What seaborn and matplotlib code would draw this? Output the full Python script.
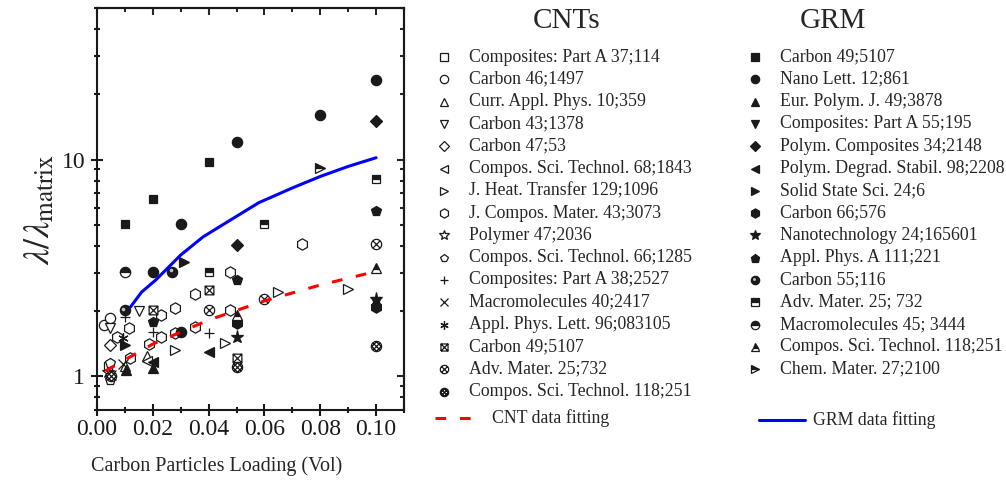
import numpy as np
import matplotlib
matplotlib.use('Agg')
import matplotlib.pyplot as plt
import matplotlib.ticker as mticker
import matplotlib.transforms as mtrans
from matplotlib.path import Path
import seaborn as sns

# ---- data ----
cnt_labels = ['Composites: Part A 37;114', 'Carbon 46;1497', 'Curr. Appl. Phys. 10;359',
              'Carbon 43;1378', 'Carbon 47;53', 'Compos. Sci. Technol. 68;1843',
              'J. Heat. Transfer 129;1096', 'J. Compos. Mater. 43;3073', 'Polymer 47;2036',
              'Compos. Sci. Technol. 66;1285', 'Composites: Part A 38;2527',
              'Macromolecules 40;2417', 'Appl. Phys. Lett. 96;083105', 'Carbon 49;5107',
              'Adv. Mater. 25;732', 'Compos. Sci. Technol. 118;251']
cnt_x = [[0.004, 0.05], [0.0025, 0.0046], [0.01, 0.018], [0.0046, 0.015], [0.0046],
         [0.018], [0.028, 0.046, 0.065, 0.09],
         [0.0071, 0.0115, 0.0118, 0.0186, 0.023, 0.023, 0.028, 0.028, 0.035, 0.035, 0.0475, 0.0475, 0.0736],
         [0.004], [0.0046, 0.0046], [0.01, 0.02, 0.04], [0.005, 0.0095], [0.0093],
         [0.02, 0.04, 0.05], [0.04, 0.06, 0.10], [0.005, 0.05, 0.10]]
cnt_y = [[1.12, 1.17], [1.72, 1.86], [1.12, 1.24], [1.67, 2.0], [1.4],
         [1.18], [1.33, 1.42, 2.45, 2.53],
         [1.52, 1.67, 1.22, 1.41, 1.92, 1.52, 2.06, 1.58, 2.4, 1.69, 3.03, 2.02, 4.09],
         [1.05], [1.15, 0.96], [1.88, 1.6, 1.58], [1.02, 1.14], [1.5],
         [2.02, 2.5, 1.21], [2.02, 2.27, 4.09], [1.0, 1.11, 1.38]]

grm_labels = ['Carbon 49;5107', 'Nano Lett. 12;861', 'Eur. Polym. J. 49;3878',
              'Composites: Part A 55;195', 'Polym. Composites 34;2148',
              'Polym. Degrad. Stabil. 98;2208', 'Solid State Sci. 24;6', 'Carbon 66;576',
              'Nanotechnology 24;165601', 'Appl. Phys. A 111;221', 'Carbon 55;116',
              'Adv. Mater. 25; 732', 'Macromolecules 45; 3444',
              'Compos. Sci. Technol. 118;251', 'Chem. Mater. 27;2100']
grm_x = [[0.01, 0.02, 0.04], [0.02, 0.03, 0.03, 0.05, 0.08, 0.10], [0.0104, 0.02], [0.10],
         [0.05, 0.10], [0.02, 0.04], [0.01, 0.031], [0.05, 0.10], [0.05, 0.10],
         [0.02, 0.05, 0.10], [0.01, 0.027], [0.04, 0.06, 0.10], [0.01], [0.05, 0.10], [0.08]]
grm_y = [[5.05, 6.6, 9.7], [3.03, 5.05, 1.6, 12.1, 16.1, 23.2], [1.07, 1.09], [2.2],
         [4.04, 15.1], [1.16, 1.29], [1.39, 3.37], [1.76, 2.1], [1.52, 2.28],
         [1.78, 2.78, 5.8], [2.02, 3.03], [3.03, 5.05, 8.1], [3.03], [1.92, 3.16], [9.1]]

cnt_fit_x = [0.003, 0.02, 0.04, 0.06, 0.08, 0.10]
cnt_fit_y = [1.06, 1.41, 1.82, 2.23, 2.64, 3.05]
grm_fit_x = [0.012, 0.016, 0.021, 0.03, 0.038, 0.048, 0.058, 0.07, 0.08, 0.09, 0.10]
grm_fit_y = [2.09, 2.45, 2.78, 3.63, 4.4, 5.28, 6.33, 7.4, 8.36, 9.3, 10.2]

x_ticks = [0.00, 0.02, 0.04, 0.06, 0.08, 0.10]
y_ticks = [1, 10]

# ---- custom marker shapes ----
t = np.linspace(0, 2 * np.pi, 49)
ring = np.c_[np.cos(t), np.sin(t)]
ring_codes = [Path.MOVETO] + [Path.LINETO] * 48
sq = np.array([[-1, -1], [1, -1], [1, 1], [-1, 1], [-1, -1]])
sq_codes = [Path.MOVETO] + [Path.LINETO] * 4
diag = np.array([[-1, -1], [1, 1], [-1, 1], [1, -1]])
diag_codes = [Path.MOVETO, Path.LINETO] * 2
BOXX = Path(np.r_[sq, diag], sq_codes + diag_codes)
CIRCX = Path(np.r_[ring, diag * 0.7071], ring_codes + diag_codes)
segs = []
for c in (-0.9, 0.0, 0.9):
    h = np.sqrt(1 - c ** 2 / 2)
    u = np.array([1, 1]) / np.sqrt(2)
    v = np.array([1, -1]) / np.sqrt(2)
    f1 = np.array([c / 2, -c / 2])
    f2 = np.array([c / 2, c / 2])
    segs += [f1 - h * u, f1 + h * u, f2 - h * v, f2 + h * v]
HATCH = Path(np.r_[ring, np.array(segs)], ring_codes + [Path.MOVETO, Path.LINETO] * 6)

cnt_styles = [dict(m='s', s=0.85), dict(m='o'), dict(m='^'), dict(m='v'), dict(m='D', s=0.8),
              dict(m='<'), dict(m='>'), dict(m='h', s=1.1), dict(m='*', s=1.2), dict(m='p'),
              dict(m='+'), dict(m='x', s=0.9), dict(m=(6, 2, 0)), dict(m=BOXX, s=0.85),
              dict(m=CIRCX), dict(m=HATCH)]
grm_styles = [dict(m='s', s=0.85), dict(m='o'), dict(m='^'), dict(m='v'), dict(m='D', s=0.8),
              dict(m='<'), dict(m='>'), dict(m='h', s=1.1), dict(m='*', s=1.3), dict(m='p', s=1.05),
              dict(m='o', shine=True), dict(m='s', s=0.85, fs='top'), dict(m='o', fs='top'),
              dict(m='^', fs='top'), dict(m='>', fs='top')]


def put(ax, x, y, st, ms, filled):
    kw = dict(ls='none', marker=st['m'], ms=ms * st.get('s', 1), mec='k', mew=0.9,
              clip_on=False, zorder=3)
    if 'fs' in st:
        kw.update(fillstyle=st['fs'], mfc='k', markerfacecoloralt='w')
    elif filled:
        kw.update(mfc='k')
    else:
        kw.update(mfc='w')
    ax.plot(x, y, **kw)
    if st.get('shine'):
        tr = mtrans.offset_copy(ax.transData, fig=ax.figure, x=-ms * 0.15, y=ms * 0.15, units='points')
        ax.plot(x, y, ls='none', marker='o', ms=ms * 0.35, mfc='0.75', mec='none',
                transform=tr, zorder=4, clip_on=False)


sns.set_theme(style='ticks')
plt.rcParams['font.family'] = ['Liberation Serif', 'DejaVu Serif']
plt.rcParams['mathtext.fontset'] = 'stix'

fig = plt.figure(figsize=(10.06, 4.88), dpi=100)
ax = fig.add_axes([0.0964, 0.1598, 0.3052, 0.8238])
ax.set_yscale('log')
ax.set_xlim(0, 0.11)
ax.set_ylim(0.7, 50)

for i in range(len(cnt_labels)):
    put(ax, cnt_x[i], cnt_y[i], cnt_styles[i], 7.4, False)
for i in range(len(grm_labels)):
    put(ax, grm_x[i], grm_y[i], grm_styles[i], 7.4, True)

sns.lineplot(x=cnt_fit_x, y=cnt_fit_y, ax=ax, color='#ff0000', lw=2.2,
             linestyle=(0, (3.5, 4.5)), estimator=None, sort=False, legend=False, zorder=5)
sns.lineplot(x=grm_fit_x, y=grm_fit_y, ax=ax, color='#0000ff', lw=2.2,
             estimator=None, sort=False, legend=False, zorder=5)

ax.xaxis.set_major_locator(mticker.FixedLocator(x_ticks))
ax.xaxis.set_minor_locator(mticker.MultipleLocator(0.01))
ax.xaxis.set_major_formatter(mticker.FormatStrFormatter('%.2f'))
ax.yaxis.set_major_locator(mticker.FixedLocator(y_ticks))
ax.yaxis.set_minor_locator(mticker.LogLocator(subs=np.arange(2, 10)))
ax.yaxis.set_major_formatter(mticker.FuncFormatter(lambda v, p: '%g' % v))
ax.yaxis.set_minor_formatter(mticker.NullFormatter())
ax.tick_params(which='both', direction='inout', width=1.5, labelsize=17, colors='k')
ax.tick_params(axis='x', pad=2)
ax.tick_params(axis='y', pad=4)
ax.tick_params(which='major', length=9)
ax.tick_params(which='minor', length=5)
for sp in ax.spines.values():
    sp.set_linewidth(1.5)
    sp.set_color('k')

top = ax.secondary_xaxis('top')
top.xaxis.set_major_locator(mticker.FixedLocator(x_ticks))
top.xaxis.set_minor_locator(mticker.MultipleLocator(0.01))
top.tick_params(which='both', direction='in', width=1.5, labeltop=False)
top.tick_params(which='major', length=5)
top.tick_params(which='minor', length=3)
right = ax.secondary_yaxis('right')
right.yaxis.set_major_locator(mticker.FixedLocator(y_ticks))
right.yaxis.set_minor_locator(mticker.LogLocator(subs=np.arange(2, 10)))
right.tick_params(which='both', direction='in', width=1.5, labelright=False)
right.tick_params(which='major', length=5)
right.tick_params(which='minor', length=3)
for s in (top, right):
    for sp in s.spines.values():
        sp.set_linewidth(1.5)

ax.set_xlabel('Carbon Particles Loading (Vol)', fontsize=14.5)
ax.xaxis.set_label_coords(0.39, -0.115)
ax.set_ylabel(r'$\lambda/\lambda_{\rm matrix}$', fontsize=26)
ax.yaxis.set_label_coords(-0.13, 0.5)

# ---- legend panel, pixel coordinates ----
lax = fig.add_axes([0, 0, 1, 1])
lax.set_xlim(0, 1006)
lax.set_ylim(488, 0)
lax.axis('off')
lax.text(567, 21, 'CNTs', fontsize=21, ha='center', va='center')
lax.text(833, 21, 'GRM', fontsize=21, ha='center', va='center')
for i, lab in enumerate(cnt_labels):
    yy = 57 + 22.3 * i
    put(lax, [444], [yy], cnt_styles[i], 6.0, False)
    lax.text(469, yy, lab, fontsize=12.8, va='center')
for i, lab in enumerate(grm_labels):
    yy = 57 + 22.3 * i
    put(lax, [755], [yy], grm_styles[i], 6.0, True)
    lax.text(780, yy, lab, fontsize=12.8, va='center')
lax.plot([435, 471], [418, 418], color='#ff0000', lw=2.2, linestyle=(0, (3.5, 4.5)))
lax.text(492, 418, 'CNT data fitting', fontsize=12.8, va='center')
lax.plot([759, 805], [420, 420], color='#0000ff', lw=2.2)
lax.text(813, 420, 'GRM data fitting', fontsize=12.8, va='center')

fig.savefig('out.png', dpi=100)
